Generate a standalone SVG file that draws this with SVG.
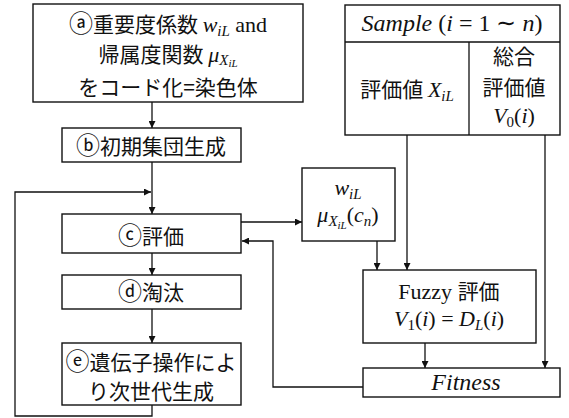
<svg xmlns="http://www.w3.org/2000/svg" width="569" height="418" viewBox="0 0 569 418">
<style>
.box{fill:#fff;stroke:#111;stroke-width:1.4}
.ln{fill:none;stroke:#111;stroke-width:1.3}
.jp{font-family:"Noto Sans CJK JP","Noto Sans CJK SC",sans-serif;font-size:21px;fill:#111}
.c{font-size:24px}
.m{font-family:"Liberation Serif",serif;font-style:italic;font-size:22px}
.r{font-family:"Liberation Serif",serif;font-style:normal;font-size:22px}
.mt{font-family:"Liberation Serif",serif;font-style:italic;font-size:24px}
.rt{font-family:"Liberation Serif",serif;font-style:normal;font-size:24px}
.s{font-family:"Liberation Serif",serif;font-style:italic;font-size:15px}
.s2{font-family:"Liberation Serif",serif;font-style:italic;font-size:11px}
.rs{font-family:"Liberation Serif",serif;font-style:normal;font-size:15px}
</style>
<defs>
<marker id="ah" markerWidth="8" markerHeight="7" refX="7" refY="3.5" orient="auto" markerUnits="userSpaceOnUse">
<path d="M0,0 L7,3.5 L0,7 z" fill="#111"/>
</marker>
</defs>
<g id="connectors">
<path class="ln" d="M152,102 V128" marker-end="url(#ah)"/>
<path class="ln" d="M152,162 V214" marker-end="url(#ah)"/>
<path class="ln" d="M152,253 V275" marker-end="url(#ah)"/>
<path class="ln" d="M152,309 V343" marker-end="url(#ah)"/>
<path class="ln" d="M152,405 V416 H15 V192 H151" marker-end="url(#ah)"/>
<path class="ln" d="M241,222 H302" marker-end="url(#ah)"/>
<path class="ln" d="M377,241 V270" marker-end="url(#ah)"/>
<path class="ln" d="M407,135 V270" marker-end="url(#ah)"/>
<path class="ln" d="M545,135 V368" marker-end="url(#ah)"/>
<path class="ln" d="M425,343 V368" marker-end="url(#ah)"/>
<path class="ln" d="M363,387 H273 V241 H242" marker-end="url(#ah)"/>
</g>
<g id="node-a">
<rect class="box" x="33" y="4" width="270" height="98"/>
<text class="jp" x="168" y="32" text-anchor="middle"><tspan class="c">ⓐ</tspan>重要度係数 <tspan class="m">w</tspan><tspan class="s" dy="4">iL</tspan><tspan class="r" dy="-4"> and</tspan></text>
<text class="jp" x="168" y="62" text-anchor="middle">帰属度関数 <tspan class="m">μ</tspan><tspan class="s" dy="3">X</tspan><tspan class="s2" dy="2">iL</tspan></text>
<text class="jp" x="168" y="95" text-anchor="middle">をコード化=染色体</text>
</g>
<g id="node-b">
<rect class="box" x="62" y="128" width="179" height="34"/>
<text class="jp" x="151" y="154" text-anchor="middle"><tspan class="c">ⓑ</tspan>初期集団生成</text>
</g>
<g id="node-c">
<rect class="box" x="62" y="214" width="179" height="39"/>
<text class="jp" x="151" y="244" text-anchor="middle"><tspan class="c">ⓒ</tspan>評価</text>
</g>
<g id="node-d">
<rect class="box" x="62" y="275" width="179" height="34"/>
<text class="jp" x="151" y="300" text-anchor="middle"><tspan class="c">ⓓ</tspan>淘汰</text>
</g>
<g id="node-e">
<rect class="box" x="62" y="343" width="179" height="62"/>
<text class="jp" x="151" y="370" text-anchor="middle"><tspan class="c">ⓔ</tspan>遺伝子操作によ</text>
<text class="jp" x="151" y="399" text-anchor="middle">り次世代生成</text>
</g>
<g id="node-w">
<rect class="box" x="302" y="168" width="93" height="73"/>
<text class="jp" x="348" y="195" text-anchor="middle"><tspan class="m">w</tspan><tspan class="s" dy="4">iL</tspan></text>
<text class="jp" x="348" y="222" text-anchor="middle"><tspan class="m">μ</tspan><tspan class="s" dy="4">X</tspan><tspan class="s2" dy="3">iL</tspan><tspan class="r" dy="-7">(</tspan><tspan class="m">c</tspan><tspan class="s" dy="4">n</tspan><tspan class="r" dy="-4">)</tspan></text>
</g>
<g id="node-sample">
<rect class="box" x="345" y="5" width="215" height="130"/>
<path class="ln" d="M345,42 H560 M469,42 V135"/>
<text class="jp" x="452" y="31" text-anchor="middle"><tspan class="mt">Sample</tspan><tspan class="rt"> (</tspan><tspan class="mt">i</tspan><tspan class="rt"> = 1 ∼ </tspan><tspan class="mt">n</tspan><tspan class="rt">)</tspan></text>
<text class="jp" x="407" y="97" text-anchor="middle">評価値 <tspan class="m">X</tspan><tspan class="s" dy="4">iL</tspan></text>
<text class="jp" x="514" y="64" text-anchor="middle">総合</text>
<text class="jp" x="514" y="95" text-anchor="middle">評価値</text>
<text class="jp" x="514" y="123" text-anchor="middle"><tspan class="m">V</tspan><tspan class="rs" dy="4">0</tspan><tspan class="r" dy="-4">(</tspan><tspan class="m">i</tspan><tspan class="r">)</tspan></text>
</g>
<g id="node-fuzzy">
<rect class="box" x="363" y="270" width="173" height="73"/>
<text class="jp" x="449" y="299" text-anchor="middle"><tspan class="r">Fuzzy </tspan>評価</text>
<text class="jp" x="449" y="326" text-anchor="middle"><tspan class="m">V</tspan><tspan class="rs" dy="4">1</tspan><tspan class="r" dy="-4">(</tspan><tspan class="m">i</tspan><tspan class="r">) = </tspan><tspan class="m">D</tspan><tspan class="s" dy="4">L</tspan><tspan class="r" dy="-4">(</tspan><tspan class="m">i</tspan><tspan class="r">)</tspan></text>
</g>
<g id="node-fitness">
<rect class="box" x="363" y="368" width="197" height="29"/>
<text class="jp" x="466" y="390" text-anchor="middle"><tspan class="mt">Fitness</tspan></text>
</g>
</svg>
